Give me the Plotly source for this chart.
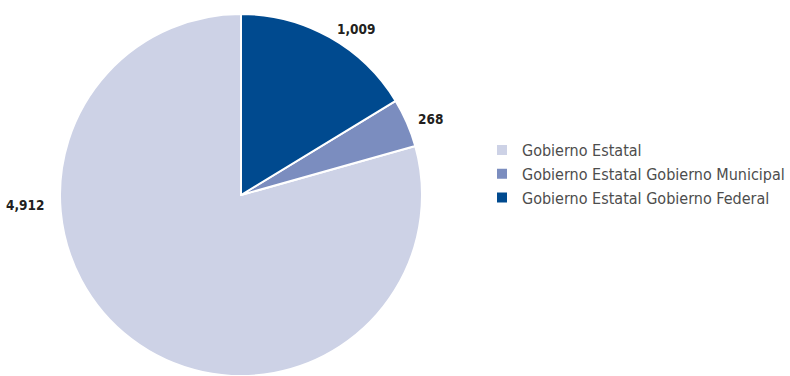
import math
import plotly.graph_objects as go

labels = ["Gobierno Estatal", "Gobierno Estatal Gobierno Municipal", "Gobierno Estatal Gobierno Federal"]
values = [4912, 268, 1009]
colors = ["#CDD2E6", "#7B8DBF", "#004A8F"]

W, H = 790, 376
cx, cy, R = 241, 195, 181  # pixel geometry of the pie

total = sum(values)
# slices are laid out counterclockwise in data order; rotate so the
# last slice starts right at 12 o'clock going clockwise
rot = 360.0 * (total - values[0]) / total

fig = go.Figure(go.Pie(
    labels=labels, values=values, sort=False, direction="counterclockwise", rotation=rot,
    marker=dict(colors=colors, line=dict(color="white", width=2)),
    textinfo="none", hoverinfo="label+value",
    domain=dict(x=[(cx - R) / W, (cx + R) / W], y=[1 - (cy + R) / H, 1 - (cy - R) / H]),
))

# clockwise angle (deg, from 12 o'clock) of each slice's middle
mids = []
acc = 0.0
for v in reversed(values):
    span = 360.0 * v / total
    mids.append(acc + span / 2)
    acc += span
mids = list(reversed(mids))

label_font = dict(family="DejaVu Sans Condensed, DejaVu Sans, sans-serif", size=13.5, color="#231F20")
annotations = []
for v, mid in zip(values, mids):
    if v == max(values):
        ang, r, xa = 267.0, R + 14, "right"
    else:
        ang, r, xa = mid, R + 10, "left"
    rad = math.radians(ang)
    px = cx + r * math.sin(rad)
    py = cy - r * math.cos(rad)
    annotations.append(dict(
        x=px / W, y=1 - py / H, xref="paper", yref="paper",
        text=f"<b>{v:,}</b>", showarrow=False, xanchor=xa, yanchor="middle",
        font=label_font,
    ))

fig.update_layout(
    width=W, height=H,
    margin=dict(l=0, r=0, t=0, b=0, autoexpand=False),
    paper_bgcolor="white", plot_bgcolor="white",
    showlegend=True,
    legend=dict(x=482 / W, y=1 - 174 / H, xanchor="left", yanchor="middle",
                font=dict(family="DejaVu Sans Condensed, DejaVu Sans, sans-serif", size=16, color="#4D4D4D"),
                itemsizing="constant"),
    annotations=annotations,
)

fig.write_html("out.html", config={"displayModeBar": False},
               post_script="document.body.style.margin='0';")
